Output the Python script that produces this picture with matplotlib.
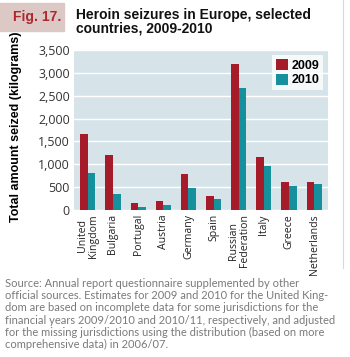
import numpy as np
import matplotlib.pyplot as plt
from matplotlib.patches import Rectangle
from matplotlib.lines import Line2D

# Heroin seizures (kg) by country
countries = ["United\nKingdom", "Bulgaria", "Portugal", "Austria", "Germany",
             "Spain", "Russian\nFederation", "Italy", "Greece", "Netherlands"]
seized_2009 = [1662, 1203, 146, 204, 780, 314, 3186, 1167, 612, 612]
seized_2010 = [817, 357, 58, 102, 481, 248, 2676, 963, 525, 569]
yticks = [0, 500, 1000, 1500, 2000, 2500, 3000, 3500]

RED = "#a51b29"
TEAL = "#17909d"
BG = "#d6e4e9"

fig = plt.figure(figsize=(3.5, 3.57), dpi=100)
ax = fig.add_axes([74 / 350, 147 / 357, 254 / 350, 160 / 357])
ax.set_facecolor(BG)

x = np.arange(len(countries))
w = 0.3
ax.bar(x - w / 2, seized_2009, width=w, color=RED, label="2009", zorder=3)
ax.bar(x + w / 2, seized_2010, width=w, color=TEAL, label="2010", zorder=3)

ax.set_xlim(-0.55, len(countries) - 0.45)
ax.set_ylim(0, 3500)
ax.set_yticks(yticks)
ax.set_yticklabels([f"{v:,}" for v in yticks], fontsize=9,
                   family="Open Sans", color="#333333")
ax.set_xticks(x)
ax.set_xticklabels(countries, rotation=90, fontsize=7.6, family="Open Sans",
                   color="#222222", va="top", linespacing=0.95)
ax.tick_params(length=0, pad=3)
ax.grid(axis="y", color="white", linewidth=1.0, zorder=1)
for s in ax.spines.values():
    s.set_visible(False)

ax.set_ylabel("Total amount seized (kilograms)", fontsize=9, fontweight="bold",
              family="Liberation Sans")
ax.yaxis.set_label_coords(-0.205, 0.52)

leg = ax.legend(loc="upper right", frameon=True, fancybox=False,
                prop={"family": "Liberation Sans", "weight": "bold", "size": 9},
                handlelength=1.0, handleheight=1.0, handletextpad=0.25,
                borderpad=0.3, labelspacing=0.15, borderaxespad=0.4)
leg.get_frame().set_facecolor("white")
leg.get_frame().set_edgecolor("white")
leg.get_frame().set_linewidth(0)

# header block
fig.patches.append(Rectangle((0, 1 - 31 / 357), 64 / 350, 28 / 357,
                             transform=fig.transFigure, color="#dcc9c6", zorder=0))
fig.text(13 / 350, 1 - 17 / 357, "Fig. 17.", fontsize=10, fontweight="bold",
         family="Liberation Sans", color="#b0262f", va="center")
fig.text(76 / 350, 1 - 22 / 357, "Heroin seizures in Europe, selected\ncountries, 2009-2010",
         fontsize=10, fontweight="bold", family="Liberation Sans",
         color="#111111", va="center", linespacing=0.92)

# thin frame line on the right
fig.lines.append(Line2D([343 / 350, 343 / 350], [1 - 268 / 357, 1],
                        transform=fig.transFigure, color="#d8d8d8", linewidth=0.8))

source = ("Source: Annual report questionnaire supplemented by other\n"
          "official sources. Estimates for 2009 and 2010 for the United King-\n"
          "dom are based on incomplete data for some jurisdictions for the\n"
          "financial years 2009/2010 and 2010/11, respectively, and adjusted\n"
          "for the missing jurisdictions using the distribution (based on more\n"
          "comprehensive data) in 2006/07.")
fig.text(5 / 350, 1 - 278 / 357, source, fontsize=8.0, family="Lato",
         color="#7a7a7a", va="top", linespacing=1.13)

fig.savefig("out.png", dpi=100, facecolor="white")
